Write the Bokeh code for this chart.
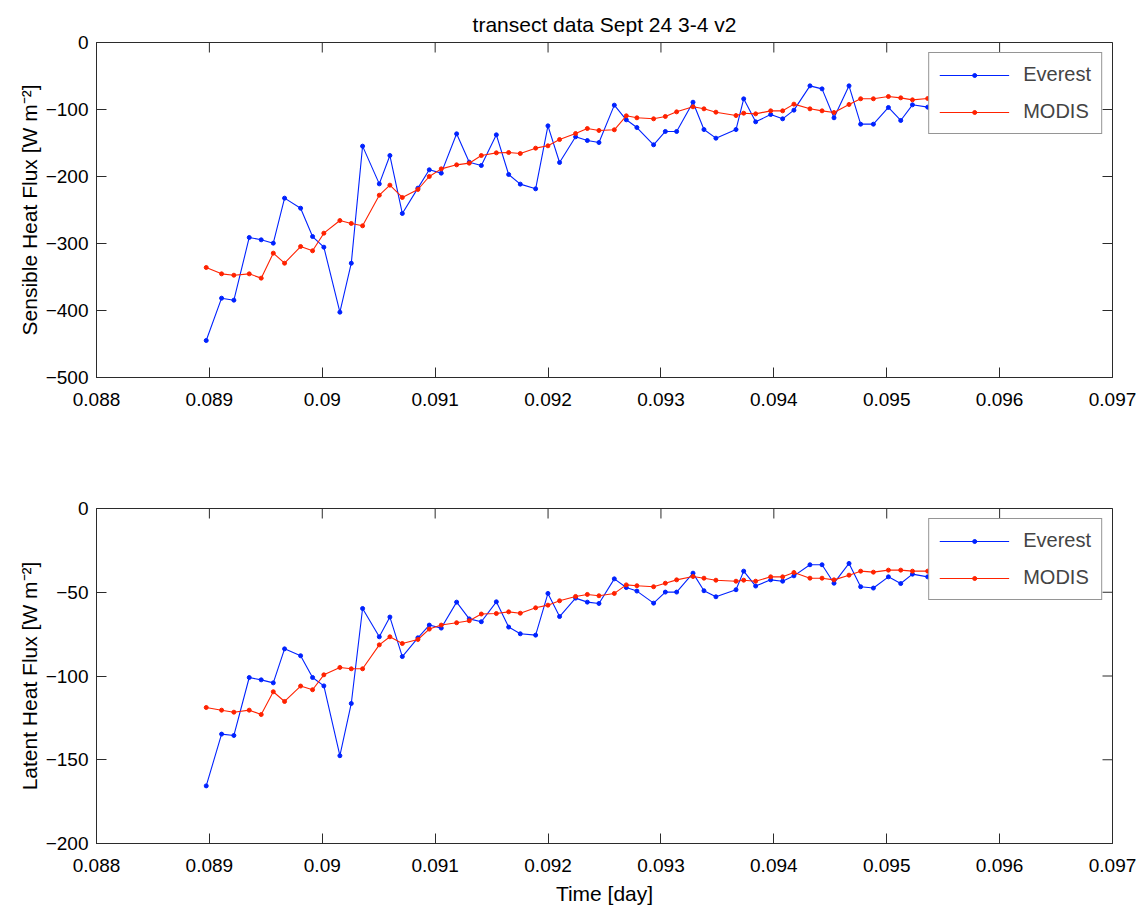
import math
from bokeh.plotting import figure
from bokeh.layouts import column
from bokeh.models import FixedTicker, Legend, LegendItem, Range1d
from bokeh.embed import file_html
from bokeh.resources import INLINE

# ---- data ----
time_day = [0.088972, 0.089108, 0.089217, 0.089353, 0.089459, 0.089566, 0.089666, 0.089808,
            0.089914, 0.090014, 0.090156, 0.090257, 0.090357, 0.090505, 0.090599, 0.090709,
            0.090847, 0.090948, 0.091054, 0.091190, 0.091302, 0.091409, 0.091542, 0.091651,
            0.091754, 0.091890, 0.091999, 0.092102, 0.092244, 0.092348, 0.092451, 0.092587,
            0.092693, 0.092787, 0.092935, 0.093039, 0.093139, 0.093284, 0.093381, 0.093487,
            0.093665, 0.093733, 0.093839, 0.093972, 0.094078, 0.094178, 0.094320, 0.094427,
            0.094533, 0.094666, 0.094769, 0.094882, 0.095015, 0.095124, 0.095228, 0.095363,
            0.095505, 0.095629]

sensible_everest = [-444.8, -381.6, -384.6, -291.0, -294.5, -299.5, -232.3, -247.3, -289.6, -305.5,
                    -402.5, -329.4, -154.7, -211.0, -168.7, -255.2, -217.4, -190.0, -195.0, -136.3,
                    -178.6, -183.6, -137.8, -197.0, -211.4, -218.4, -124.4, -179.1, -140.7, -146.3,
                    -149.3, -93.5, -115.4, -126.9, -152.7, -132.8, -132.8, -89.1, -129.9, -142.8,
                    -129.9, -84.1, -118.4, -107.5, -113.9, -101.0, -64.7, -69.2, -112.4, -64.7,
                    -121.9, -121.9, -97.0, -116.4, -93.0, -96.5, -128.0, -98.0]

sensible_modis = [-335.8, -345.3, -347.3, -345.3, -351.7, -314.4, -329.4, -304.5, -310.9, -284.6,
                  -265.7, -270.1, -273.6, -227.9, -212.9, -231.3, -219.4, -200.0, -188.6, -182.6,
                  -180.1, -168.7, -164.7, -164.2, -165.7, -157.7, -154.2, -144.8, -135.8, -128.4,
                  -131.3, -130.3, -109.4, -112.4, -113.9, -110.4, -103.5, -96.0, -99.0, -104.0,
                  -109.0, -105.5, -106.5, -102.0, -102.0, -92.0, -99.0, -102.0, -104.5, -92.5,
                  -84.0, -84.0, -80.6, -82.6, -85.6, -83.6, -82.0, -80.0]

latent_everest = [-165.6, -134.7, -135.5, -100.9, -102.3, -104.1, -83.8, -87.9, -100.9, -105.9,
                  -147.6, -116.4, -59.7, -76.6, -64.8, -88.4, -77.2, -69.6, -71.4, -55.9,
                  -65.9, -67.6, -55.7, -70.8, -74.8, -75.6, -50.7, -64.5, -53.5, -55.9,
                  -56.7, -42.0, -47.2, -49.3, -56.5, -49.9, -49.9, -38.6, -49.1, -52.7,
                  -48.5, -37.4, -46.3, -42.6, -43.4, -40.2, -33.6, -33.6, -44.6, -32.8,
                  -46.7, -47.5, -40.8, -44.8, -39.2, -40.8, -44.0, -38.0]

latent_modis = [-118.8, -120.4, -121.6, -120.4, -123.0, -109.4, -115.2, -106.0, -108.2, -99.3,
                -94.9, -95.7, -95.7, -81.4, -76.6, -80.6, -78.2, -72.0, -69.6, -68.2,
                -67.0, -63.0, -62.7, -61.7, -62.5, -59.3, -57.7, -55.1, -52.5, -51.3,
                -52.1, -50.7, -45.6, -46.1, -46.7, -44.6, -42.6, -40.6, -41.6, -42.8,
                -43.4, -42.8, -43.4, -40.8, -40.8, -38.2, -41.6, -41.6, -42.6, -39.8,
                -37.4, -38.0, -36.8, -36.8, -37.4, -37.4, -37.0, -36.5]

x_ticks = [0.088, 0.089, 0.09, 0.091, 0.092, 0.093, 0.094, 0.095, 0.096, 0.097]
x_tick_labels = ["0.088", "0.089", "0.09", "0.091", "0.092", "0.093", "0.094", "0.095", "0.096", "0.097"]
sens_ticks = [-500, -400, -300, -200, -100, 0]
lat_ticks = [-200, -150, -100, -50, 0]

series_names = ["Everest", "MODIS"]
series_colors = ["#0022ff", "#ff2200"]

FONT = "Liberation Sans"
AX_COLOR = "#2b2b2b"
X_MIN, X_MAX = 0.088, 0.097


def make_panel(ylabel, ymin, yticks, ev, mo, title=None, xlabel=None, top=42, bottom=88):
    p = figure(frame_width=1016, frame_height=335,
               x_range=Range1d(X_MIN, X_MAX), y_range=Range1d(ymin, 0),
               output_backend="svg", toolbar_location=None,
               min_border_left=96, min_border_right=27,
               min_border_top=top, min_border_bottom=bottom,
               background_fill_color="white", border_fill_color="white")
    p.xgrid.visible = False
    p.ygrid.visible = False
    p.outline_line_color = AX_COLOR
    p.outline_line_width = 1

    if title:
        p.title.text = title
        p.title.align = "center"
        p.title.text_font = FONT
        p.title.text_font_size = "21px"
        p.title.text_font_style = "normal"
        p.title.text_color = "black"
        p.title.standoff = 14

    r_ev_l = p.line(time_day, ev, line_color=series_colors[0], line_width=1.1)
    r_ev_m = p.scatter(time_day, ev, marker="circle", size=4, color=series_colors[0])
    r_mo_l = p.line(time_day, mo, line_color=series_colors[1], line_width=1.1)
    r_mo_m = p.scatter(time_day, mo, marker="circle", size=4, color=series_colors[1])

    # mirrored inward ticks on the top and right edges of the box (clipped to the frame)
    p.scatter(x_ticks, [0] * len(x_ticks), marker="dash", size=20, angle=math.pi / 2,
              line_color=AX_COLOR, line_width=1)
    p.scatter([X_MAX] * len(yticks), yticks, marker="dash", size=20,
              line_color=AX_COLOR, line_width=1)

    xt = FixedTicker(ticks=x_ticks)
    yt = FixedTicker(ticks=yticks)
    overrides = {t: s for t, s in zip(x_ticks, x_tick_labels)}

    for ax in p.xaxis:
        ax.ticker = xt
        ax.major_label_overrides = overrides
    for ax in p.yaxis:
        ax.ticker = yt

    for ax in list(p.xaxis) + list(p.yaxis):
        ax.axis_line_color = AX_COLOR
        ax.major_tick_line_color = AX_COLOR
        ax.major_tick_in = 10
        ax.major_tick_out = 0
        ax.minor_tick_line_color = None
        ax.major_label_text_font = FONT
        ax.major_label_text_font_size = "19px"
        ax.major_label_text_color = "black"
        ax.axis_label_text_font = FONT
        ax.axis_label_text_font_size = "21px"
        ax.axis_label_text_font_style = "normal"
        ax.axis_label_text_color = "black"
    p.xaxis.major_label_standoff = 15
    p.yaxis.major_label_standoff = 8
    p.yaxis.axis_label = ylabel
    p.yaxis.axis_label_standoff = 2
    if xlabel:
        p.xaxis.axis_label = xlabel
        p.xaxis.axis_label_standoff = 7

    legend = Legend(items=[LegendItem(label=series_names[0], renderers=[r_ev_l, r_ev_m]),
                           LegendItem(label=series_names[1], renderers=[r_mo_l, r_mo_m])],
                    location="top_right", margin=10, padding=10, spacing=14,
                    glyph_width=70, glyph_height=10, label_height=20, label_standoff=14,
                    label_text_font=FONT, label_text_font_size="20px",
                    border_line_color=AX_COLOR, border_line_width=1,
                    background_fill_color="white", background_fill_alpha=1.0)
    p.add_layout(legend, "center")
    return p


p1 = make_panel("Sensible Heat Flux [W m\u207b\u00b2]", -500, sens_ticks,
                sensible_everest, sensible_modis,
                title="transect data Sept 24 3-4 v2", top=42, bottom=88)
p2 = make_panel("Latent Heat Flux [W m\u207b\u00b2]", -200, lat_ticks,
                latent_everest, latent_modis,
                xlabel="Time [day]", top=43, bottom=66)

layout = column(p1, p2, spacing=0)
open("out.html", "w").write(file_html(layout, INLINE))
